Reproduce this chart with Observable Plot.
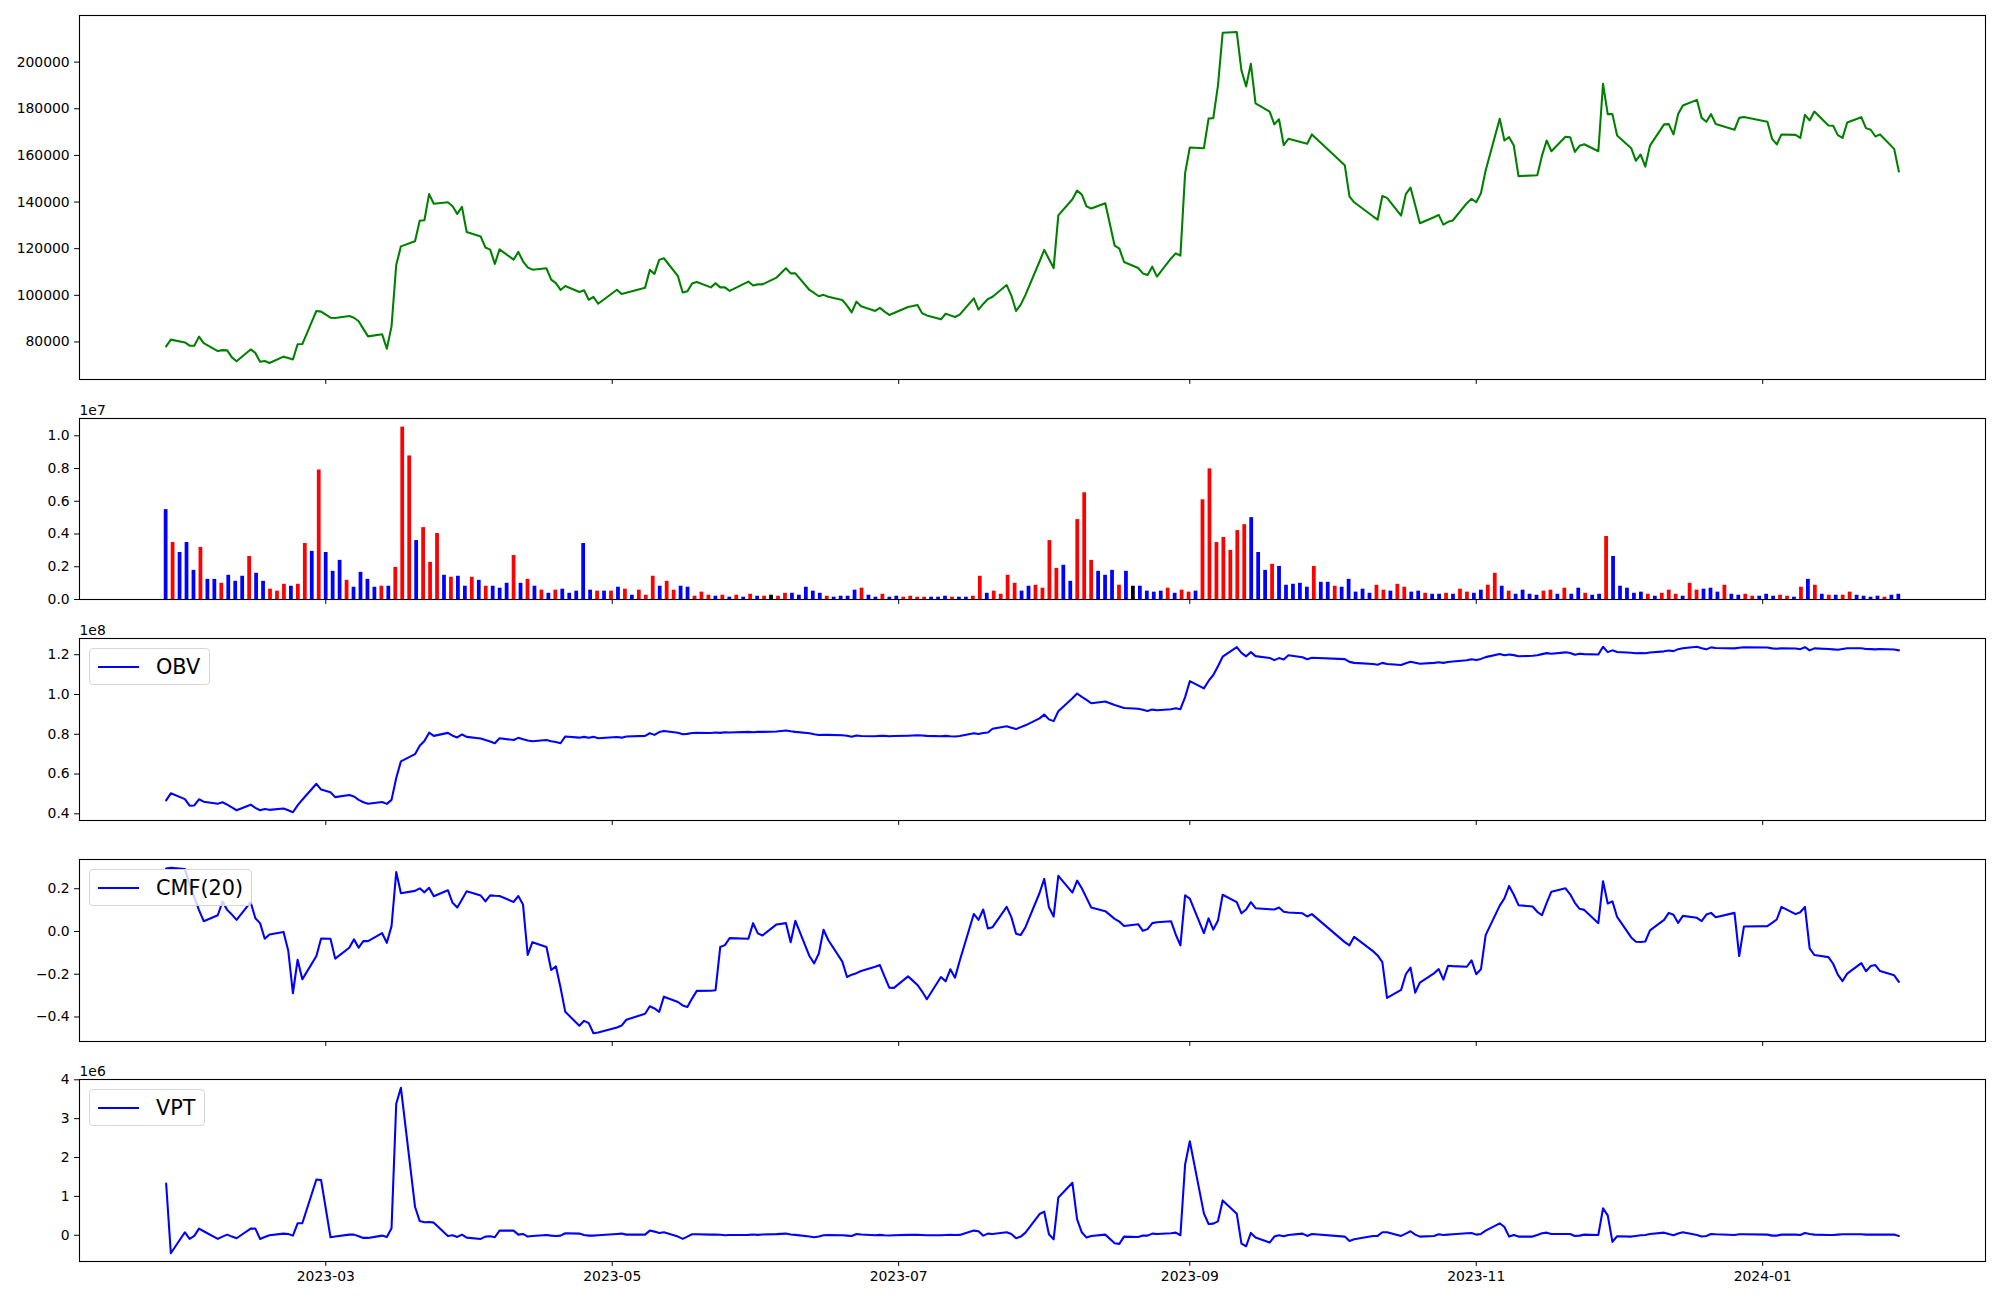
<!DOCTYPE html>
<html>
<head>
<meta charset="utf-8">
<script src="https://cdn.jsdelivr.net/npm/d3@7"></script>
<script src="https://cdn.jsdelivr.net/npm/@observablehq/plot@0.6"></script>
<style>
html,body{margin:0;padding:0;background:#fff;}
#root{position:relative;width:2000px;height:1300px;overflow:hidden;background:#fff;font-family:"DejaVu Sans",sans-serif;}
.legend{position:absolute;height:36.5px;box-sizing:border-box;border:1px solid #d6d6d6;border-radius:4px;background:rgba(255,255,255,0.8);display:flex;align-items:center;padding:0 8.3px;font-family:"DejaVu Sans";font-size:20.8px;color:#000;z-index:2;white-space:nowrap;}
.legend svg{margin-right:16.6px;display:block;}
</style>
</head>
<body>
<div id="root"></div>
<script>
// ---- Data ----
const tradingDays = {
  "2023-01": [26,27,30,31],
  "2023-02": [1,2,3,6,7,8,9,10,13,14,15,16,17,20,21,22,23,24,27,28],
  "2023-03": [2,3,6,7,8,9,10,13,14,15,16,17,20,21,22,23,24,27,28,29,30,31],
  "2023-04": [3,4,5,6,7,10,11,12,13,14,17,18,19,20,21,24,25,26,27,28],
  "2023-05": [2,3,4,8,9,10,11,12,15,16,17,18,19,22,23,24,25,26,30,31],
  "2023-06": [1,2,5,7,8,9,12,13,14,15,16,19,20,21,22,23,26,27,28,29,30],
  "2023-07": [3,4,5,6,7,10,11,12,13,14,17,18,19,20,21,24,25,26,27,28,31],
  "2023-08": [1,2,3,4,7,8,9,10,11,14,16,17,18,21,22,23,24,25,28,29,30,31],
  "2023-09": [1,4,5,6,7,8,11,12,13,14,15,18,19,20,21,22,25,26,27],
  "2023-10": [4,5,6,10,11,12,13,16,17,18,19,20,23,24,25,26,27,30,31],
  "2023-11": [1,2,3,6,7,8,9,10,13,14,15,16,17,20,21,22,23,24,27,28,29,30],
  "2023-12": [1,4,5,6,7,8,11,12,13,14,15,18,19,20,21,22,26,27,28],
  "2024-01": [2,3,4,5,8,9,10,11,12,15,16,17,18,19,22,23,24,25,26,29,30]
};

const price = [
  78100,81000,79800,78400,78400,82300,79500,76100,76500,76400,
  73400,71700,76800,75300,71500,71800,71000,73700,73100,72500,
  79000,79100,93300,93000,90400,90300,91100,90400,88900,85600,
  82400,83300,77100,86700,113000,121000,123200,132000,132200,143400,
  139300,139900,138200,134900,137900,127200,125200,120500,119600,113500,
  119700,115300,118600,114600,112000,111000,111600,106700,105200,102300,
  104000,101400,102200,98100,99300,96400,102400,100600,101100,103300,
  110900,109200,115200,115900,108200,101200,101700,105100,105700,103400,
  105200,103400,103400,101900,105900,104200,104700,104700,107600,111600,
  109400,109400,102300,101000,99600,100200,99400,98000,95600,92700,
  97300,95300,93300,94600,93000,91600,92400,95000,95400,95900,
  92300,91400,89700,92100,91400,90700,91700,98700,93900,96300,
  98400,99400,104400,99900,93300,96000,100200,114500,119500,115600,
  111700,134300,141200,144900,143200,138200,137200,139500,121300,120000,
  114300,111700,109400,108700,112300,108000,115800,118000,117000,152400,
  163400,163100,175800,176000,190000,212600,212900,196400,189600,199300,
  182300,178800,173300,175500,164400,167100,165500,165000,169000,155800,
  142400,139900,133900,132500,142600,141800,134200,143400,146200,138600,
  130900,133500,134500,130300,131500,132100,139500,141400,139900,143800,
  153500,175700,166400,167800,164200,151100,151400,151500,159900,166400,
  161800,168000,167800,161500,164100,164800,161800,190700,177700,177700,
  168500,163100,157700,160400,155200,164200,173300,173400,169000,177800,
  181400,183800,176100,174400,177700,173500,171000,176100,176500,174400,
  167100,164700,169000,168800,167500,177400,175000,178800,172800,172700,
  168700,167500,174100,176400,171700,171000,168100,169000,162800,153100
];

// volume in units of 1e7
const volume = [
  .549,.348,.287,.348,.178,.318,.123,.123,.099,.148,
  .111,.142,.263,.160,.111,.063,.051,.093,.081,.093,
  .342,.294,.791,.287,.172,.239,.117,.075,.166,.123,
  .075,.081,.081,.196,1.053,.877,.360,.439,.227,.403,
  .148,.136,.142,.081,.136,.117,.081,.081,.069,.099,
  .269,.099,.123,.081,.057,.038,.057,.063,.038,.051,
  .342,.057,.051,.051,.051,.075,.063,.026,.057,.026,
  .142,.081,.111,.057,.081,.075,.020,.045,.026,.020,
  .026,.014,.026,.014,.032,.020,.020,.026,.020,.038,
  .038,.026,.075,.051,.038,.020,.014,.020,.020,.057,
  .069,.026,.014,.032,.014,.020,.014,.020,.014,.014,
  .014,.014,.020,.014,.014,.014,.020,.142,.038,.051,
  .032,.148,.099,.051,.081,.087,.069,.360,.190,.209,
  .111,.488,.652,.239,.172,.148,.178,.087,.172,.081,
  .081,.051,.045,.051,.069,.038,.057,.045,.051,.609,
  .798,.348,.379,.300,.421,.457,.500,.287,.178,.215,
  .202,.087,.093,.099,.075,.202,.105,.105,.081,.075,
  .123,.045,.063,.038,.087,.057,.051,.093,.075,.045,
  .051,.038,.032,.032,.038,.032,.063,.045,.038,.057,
  .087,.160,.081,.051,.032,.057,.032,.026,.051,.057,
  .032,.069,.032,.069,.038,.026,.032,.385,.263,.081,
  .069,.038,.045,.032,.020,.038,.057,.032,.020,.099,
  .057,.063,.069,.045,.087,.032,.026,.032,.020,.020,
  .032,.020,.026,.020,.014,.075,.123,.087,.032,.026,
  .026,.026,.045,.026,.020,.014,.020,.014,.026,.032
];

// bar colour class per day: R = red, B = blue, K = black
const volumeColorClass = (
  "BRBBBRBBRB" + "BBRBBRRRBR" + "RBRBBBRBBB" + "BRBRRRBRRR" + "BRBBRBRBBB" +
  "RBRBRBRBBB" + "BBRBRBRBRR" + "RBRRBBRRRB" + "RBRBRBRKRR" + "BBBBBRBBBB" +
  "RBBRBBRRRR" + "BBBRBBRRBR" + "RRRBBRRRRB" + "BRRRBBBRBK" + "BBBBRBRRBR" +
  "RRRRRRBBBR" + "BBBBBRBBRB" + "BBBBRRBRRB" + "BRBBRBRRBB" + "RRBRBBBBRR" +
  "BRBBRBBRBB" + "BBBRBRRRBR" + "RBBBRBBRRB" + "BBRRBRBRBR" + "BRRBBBBRBB"
).split("");

// OBV in units of 1e8
const obv = [
  .468,.503,.474,.441,.442,.473,.461,.451,.458,.446,
  .432,.418,.446,.430,.418,.424,.420,.427,.418,.408,
  .442,.471,.551,.522,.508,.484,.495,.487,.470,.458,
  .451,.459,.450,.470,.580,.664,.700,.742,.766,.808,
  .792,.807,.793,.784,.799,.787,.779,.771,.764,.755,
  .780,.771,.782,.775,.769,.765,.771,.765,.761,.755,
  .789,.783,.787,.782,.787,.780,.786,.783,.789,.792,
  .805,.797,.811,.816,.808,.800,.802,.806,.808,.806,
  .809,.807,.810,.809,.812,.810,.812,.812,.814,.819,
  .815,.812,.805,.800,.796,.798,.797,.795,.793,.788,
  .794,.791,.790,.793,.792,.790,.791,.793,.794,.795,
  .794,.792,.790,.792,.790,.789,.791,.805,.801,.806,
  .809,.828,.840,.833,.826,.836,.845,.880,.899,.875,
  .866,.916,.981,1.005,.988,.973,.956,.965,.947,.940,
  .932,.928,.923,.917,.924,.921,.926,.931,.926,.987,
  1.067,1.031,1.068,1.098,1.142,1.190,1.238,1.209,1.192,1.213,
  1.193,1.184,1.173,1.183,1.176,1.197,1.187,1.177,1.185,1.178,
  1.164,1.159,1.153,1.150,1.159,1.153,1.148,1.157,1.165,1.160,
  1.155,1.159,1.162,1.159,1.163,1.166,1.172,1.177,1.173,1.179,
  1.188,1.204,1.197,1.201,1.198,1.192,1.195,1.197,1.203,1.208,
  1.205,1.212,1.209,1.200,1.205,1.203,1.201,1.240,1.213,1.222,
  1.214,1.210,1.207,1.209,1.207,1.211,1.217,1.221,1.218,1.228,
  1.233,1.240,1.233,1.227,1.237,1.234,1.232,1.235,1.238,1.236,
  1.232,1.230,1.233,1.231,1.228,1.238,1.222,1.232,1.229,1.227,
  1.225,1.229,1.233,1.233,1.229,1.228,1.227,1.229,1.226,1.222
];

const cmf = [
  .294,.298,.292,.22,.16,.10,.048,.076,.140,.101,
  .079,.054,.137,.062,.039,-.034,-.014,-.002,-.089,-.289,
  -.132,-.224,-.115,-.033,-.034,-.127,-.076,-.037,-.076,-.045,
  -.045,-.008,-.053,.025,.278,.179,.190,.202,.183,.204,
  .165,.193,.134,.112,.150,.188,.168,.141,.169,.167,
  .166,.138,.166,.126,-.110,-.050,-.073,-.180,-.163,-.263,
  -.376,-.441,-.418,-.429,-.476,-.473,-.449,-.440,-.413,-.385,
  -.350,-.360,-.376,-.305,-.330,-.346,-.353,-.314,-.278,-.277,
  -.275,-.073,-.064,-.031,-.034,.039,-.009,-.019,.033,.039,
  -.050,.050,-.115,-.149,-.103,.008,-.040,-.141,-.213,-.202,
  -.195,-.185,-.165,-.157,-.211,-.263,-.264,-.210,-.230,-.250,
  -.281,-.317,-.213,-.233,-.177,-.216,-.137,.082,.054,.103,
  .014,.020,.115,.067,-.011,-.016,.020,.180,.246,.113,
  .070,.260,.182,.238,.202,.157,.112,.095,.059,.046,
  .026,.034,.003,.011,.039,.043,.048,-.014,-.065,.169,
  .154,-.008,.061,.009,.051,.172,.137,.085,.103,.137,
  .109,.104,.103,.112,.092,.089,.085,.070,.081,-.050,
  -.065,-.025,-.092,-.112,-.143,-.311,-.273,-.200,-.169,-.286,
  -.239,-.196,-.176,-.225,-.160,-.162,-.165,-.135,-.200,-.177,
  -.017,.121,.155,.213,.172,.123,.117,.092,.076,.134,
  .186,.202,.174,.134,.106,.101,.039,.235,.131,.141,
  .068,-.028,-.048,-.049,-.047,.005,.054,.087,.078,.040,
  .073,.064,.048,.079,.087,.067,.087,-.115,.023,.025,
  .040,.056,.115,.081,.090,.115,-.079,-.110,-.120,-.151,
  -.202,-.232,-.197,-.148,-.186,-.162,-.157,-.185,-.205,-.236
];

// VPT in units of 1e6
const vpt = [
  1.333,-.462,.077,-.094,-.017,.171,.103,-.094,-.034,.017,
  -.034,-.077,.171,.171,-.094,-.043,.000,.043,.034,-.009,
  .308,.308,1.436,1.419,-.051,-.034,.017,.017,-.026,-.068,
  -.068,-.009,-.043,.179,3.385,3.795,.735,.368,.333,.342,
  .325,-.017,.000,-.043,.017,-.060,-.094,-.034,-.026,-.051,
  .120,.120,.017,.034,-.034,-.017,.009,-.009,-.017,-.009,
  .051,.043,.009,-.009,-.009,.000,.034,.043,.017,.017,
  .120,.094,.060,.077,-.034,-.094,-.034,.026,.026,.017,
  .020,.015,.000,.005,.010,.020,.010,.020,.030,.043,
  .020,.010,-.030,-.051,-.030,.000,.005,.000,-.010,-.020,
  .034,.020,.000,.010,.000,-.005,.000,.010,.015,.010,
  .005,.000,.000,.005,.010,.005,.010,.120,.103,-.009,
  .043,.034,.077,.034,-.077,-.034,.068,.547,.607,.026,
  -.103,.974,1.350,.410,.077,-.060,-.017,.017,-.205,-.222,
  -.034,-.043,-.009,-.009,.043,.034,.050,.068,.000,1.821,
  2.419,.564,.291,.299,.359,.897,.556,-.214,-.282,.060,
  -.060,-.188,-.034,.000,-.026,.009,.043,-.017,.034,-.034,
  -.145,-.103,-.017,-.017,.077,.077,-.017,.043,.103,.017,
  -.034,-.017,.026,.009,.017,.026,.051,.060,.017,.034,
  .120,.308,.214,-.034,.009,-.034,-.034,.009,.051,.068,
  .034,.034,.034,-.017,-.009,.017,.009,.692,.513,-.171,
  -.026,-.034,-.017,.000,.009,.034,.068,.034,.000,.043,
  .077,.009,-.034,-.017,.034,.026,.009,.026,.026,.017,
  -.009,-.009,.017,.017,.009,.060,.034,.017,.009,.009,
  .017,.026,.026,.026,.017,.017,.017,.017,.017,-.017
];

const xTickLabels = ["2023-03","2023-05","2023-07","2023-09","2023-11","2024-01"];
const priceTicks = [80000,100000,120000,140000,160000,180000,200000];
const volumeTicks = [0,0.2,0.4,0.6,0.8,1.0];
const obvTicks = [0.4,0.6,0.8,1.0,1.2];
const cmfTicks = [-0.4,-0.2,0.0,0.2];
const vptTicks = [0,1,2,3,4];
const legendLabels = {obv: "OBV", cmf: "CMF(20)", vpt: "VPT"};
const barColors = {R: "red", B: "blue", K: "black"};

// ---- Build table ----
const DAY = 864e5;
const dates = [];
for (const [ym, days] of Object.entries(tradingDays)) {
  const [y, m] = ym.split("-").map(Number);
  for (const d of days) dates.push(new Date(Date.UTC(y, m - 1, d)));
}
const n = dates.length;
for (const [name, arr] of Object.entries({price, volume, volumeColorClass, obv, cmf, vpt})) {
  if (arr.length !== n) throw new Error(name + " has " + arr.length + " values, expected " + n);
}
const span = dates[n - 1] - dates[0];
// volume bars sit in evenly spaced slots between the first and last session
const rows = dates.map((date, i) => ({
  date, slot: new Date(+dates[0] + i * span / (n - 1)),
  close: price[i], volume: volume[i], cls: volumeColorClass[i],
  obv: obv[i], cmf: cmf[i], vpt: vpt[i]
}));

const xDomain = [new Date(+dates[0] - 0.05 * span), new Date(+dates[n - 1] + 0.05 * span)];
const xTicks = xTickLabels.map(s => { const [y, m] = s.split("-").map(Number); return new Date(Date.UTC(y, m - 1, 1)); });
function pad(vals) { const [a, b] = d3.extent(vals); const r = b - a; return [a - 0.05 * r, b + 0.05 * r]; }
const minus = s => s.replace("-", "\u2212");

const root = document.getElementById("root");
const FONT = "DejaVu Sans";

function panel({frameTop, frameBottom, marginTop, marginBottom, yDomain, yTicks, yFormat, marks, xLabels, offset}) {
  const h = frameBottom - frameTop;
  const chart = Plot.plot({
    width: 2000,
    height: marginTop + h + marginBottom,
    marginLeft: 79, marginRight: 15, marginTop, marginBottom,
    style: {fontFamily: FONT, fontSize: "13.9px", color: "black", background: "transparent", overflow: "visible"},
    x: {type: "utc", domain: xDomain},
    y: {domain: yDomain},
    color: {type: "identity"},
    marks: [
      ...marks,
      Plot.frame({stroke: "black", strokeWidth: 1.1}),
      Plot.axisY({ticks: yTicks, tickFormat: yFormat, tickSize: 4.9, tickPadding: 4.9, label: null}),
      Plot.axisX({ticks: xTicks, tickFormat: xLabels ? d3.utcFormat("%Y-%m") : () => "", tickSize: 4.9, tickPadding: 4.9, label: null}),
      offset ? Plot.text([offset], {frameAnchor: "top-left", text: d => d, dy: -4, lineAnchor: "bottom", textAnchor: "start"}) : null
    ]
  });
  chart.style.position = "absolute";
  chart.style.left = "0px";
  chart.style.top = (frameTop - marginTop) + "px";
  root.appendChild(chart);
}

function legend(label, frameTop) {
  const div = document.createElement("div");
  div.className = "legend";
  div.style.left = "88.5px";
  div.style.top = (frameTop + 10.4) + "px";
  div.innerHTML = '<svg width="41.6" height="10"><line x1="0" x2="41.6" y1="5" y2="5" stroke="blue" stroke-width="2.08"/></svg><span></span>';
  div.querySelector("span").textContent = label;
  root.appendChild(div);
}

// Panel 1: price
panel({
  frameTop: 15, frameBottom: 379, marginTop: 15, marginBottom: 10,
  yDomain: pad(price), yTicks: priceTicks, yFormat: d => String(d),
  marks: [Plot.line(rows, {x: "date", y: "close", stroke: "green", strokeWidth: 2.08})]
});

// Panel 2: volume bars
panel({
  frameTop: 418, frameBottom: 599, marginTop: 30, marginBottom: 10,
  yDomain: [0, d3.max(volume) * 1.05], yTicks: volumeTicks, yFormat: d => d.toFixed(1), offset: "1e7",
  marks: [Plot.rectY(rows, {
    x1: d => new Date(+d.slot - 0.4 * DAY), x2: d => new Date(+d.slot + 0.4 * DAY),
    y1: 0, y2: "volume", fill: d => barColors[d.cls]
  })]
});

// Panel 3: OBV
panel({
  frameTop: 638, frameBottom: 820, marginTop: 30, marginBottom: 10,
  yDomain: pad(obv), yTicks: obvTicks, yFormat: d => d.toFixed(1), offset: "1e8",
  marks: [Plot.line(rows, {x: "date", y: "obv", stroke: "blue", strokeWidth: 2.08})]
});
legend(legendLabels.obv, 638);

// Panel 4: CMF
panel({
  frameTop: 859, frameBottom: 1041, marginTop: 30, marginBottom: 10,
  yDomain: pad(cmf), yTicks: cmfTicks, yFormat: d => minus(d.toFixed(1)),
  marks: [Plot.line(rows, {x: "date", y: "cmf", stroke: "blue", strokeWidth: 2.08})]
});
legend(legendLabels.cmf, 859);

// Panel 5: VPT
panel({
  frameTop: 1079, frameBottom: 1261, marginTop: 30, marginBottom: 39,
  yDomain: pad(vpt), yTicks: vptTicks, yFormat: d => String(d), offset: "1e6", xLabels: true,
  marks: [Plot.line(rows, {x: "date", y: "vpt", stroke: "blue", strokeWidth: 2.08})]
});
legend(legendLabels.vpt, 1079);
</script>
</body>
</html>
